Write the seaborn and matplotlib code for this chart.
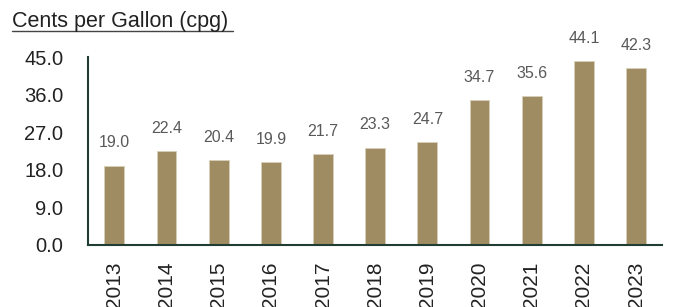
import numpy as np
import pandas as pd
import matplotlib
matplotlib.use("Agg")
import matplotlib.pyplot as plt
import seaborn as sns
from matplotlib.lines import Line2D

years = ["2013", "2014", "2015", "2016", "2017", "2018", "2019", "2020", "2021", "2022", "2023"]
cpg = [19.0, 22.4, 20.4, 19.9, 21.7, 23.3, 24.7, 34.7, 35.6, 44.1, 42.3]
yticks = [0, 9, 18, 27, 36, 45]

sns.set_style("white")
plt.rcParams["font.family"] = ["Liberation Sans", "DejaVu Sans"]

df = pd.DataFrame({"year": years, "cpg": cpg})

fig = plt.figure(figsize=(6.73, 3.07), dpi=100)
ax = fig.add_axes([0.131, 0.202, 0.853, 0.612])

sns.barplot(data=df, x="year", y="cpg", color="#A08C62", width=0.38,
            saturation=1, edgecolor="#D8CFB8", linewidth=0.6, ax=ax)

#value labels above bars
ax.bar_label(ax.containers[0], labels=[f"{v:.1f}" for v in cpg],
             padding=11, fontsize=11.5, color="#595959")

ax.set_ylim(0, 45)
ax.set_xlim(-0.5, len(years) - 0.5)
ax.set_yticks(yticks)
ax.set_yticklabels([f"{v:.1f}" for v in yticks], fontsize=14.5, color="#222222")
ax.set_xlabel("")
ax.set_ylabel("")

ax.set_xticks(np.arange(-0.5, len(years)), minor=True)
ax.tick_params(axis="x", which="major", length=0, labelsize=15,
               labelrotation=90, labelcolor="#222222", pad=12)
ax.tick_params(axis="x", which="minor", length=6, width=1.5, color="#1F3D33", direction="out")
ax.tick_params(axis="y", length=6, width=1.5, color="#1F3D33", direction="out", pad=12)
for lbl in ax.get_xticklabels():
    lbl.set_va("top")

for s in ["top", "right"]:
    ax.spines[s].set_visible(False)
for s in ["left", "bottom"]:
    ax.spines[s].set_color("#1F3D33")
    ax.spines[s].set_linewidth(1.5)

#title with underline
fig.text(0.018, 0.912, "Cents per Gallon (cpg)", fontsize=15.5, color="#222222",
         ha="left", va="baseline")
fig.add_artist(Line2D([0.018, 0.346], [0.899, 0.899], color="#444444", linewidth=1.0))

fig.savefig("out.png", dpi=100)
